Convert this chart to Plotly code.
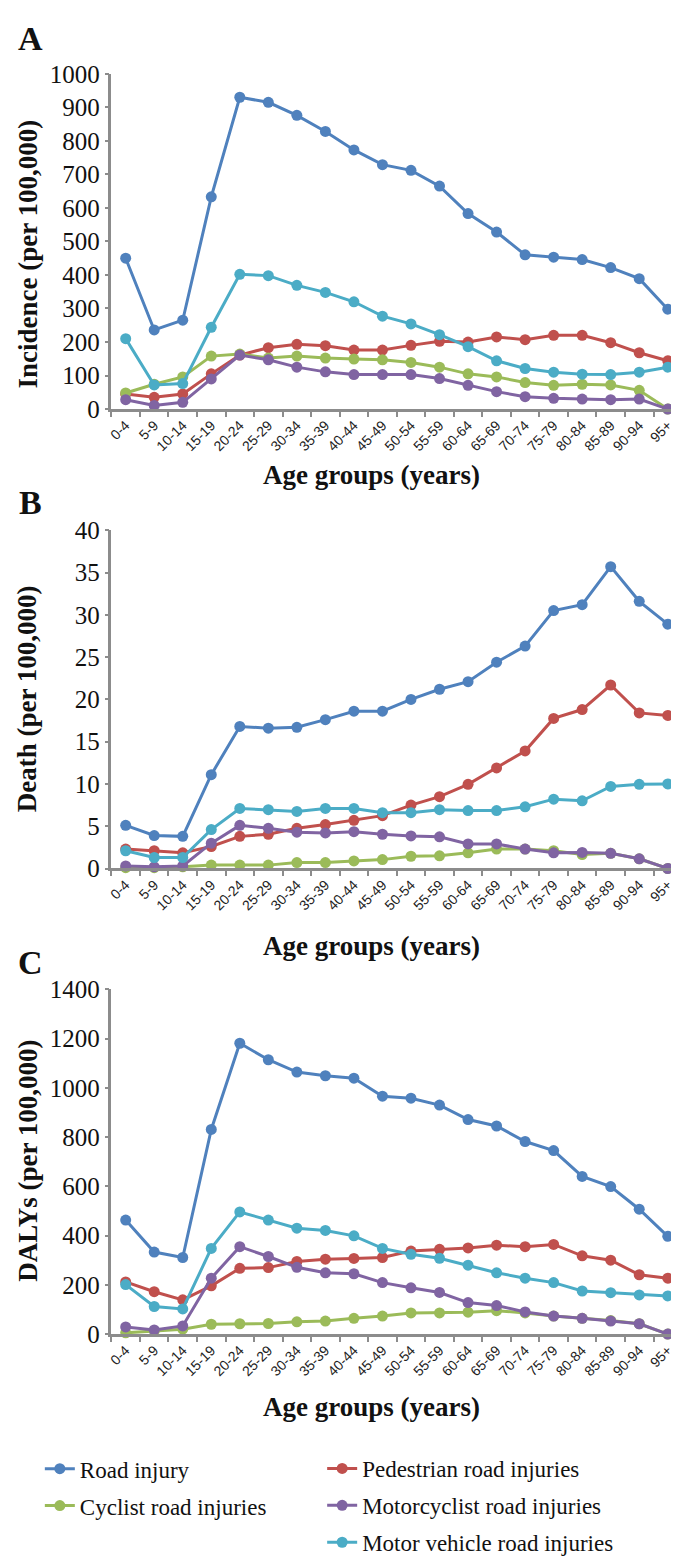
import plotly.graph_objects as go

ages = ["0-4", "5-9", "10-14", "15-19", "20-24", "25-29", "30-34", "35-39", "40-44", "45-49",
        "50-54", "55-59", "60-64", "65-69", "70-74", "75-79", "80-84", "85-89", "90-94", "95+"]

series_names = ["Road injury", "Pedestrian road injuries", "Cyclist road injuries",
                "Motorcyclist road injuries", "Motor vehicle road injuries"]
colors = ["#4F81BD", "#C0504D", "#9BBB59", "#8064A2", "#4BACC6"]

# Panel A: Incidence (per 100,000)
inc_road = [450, 236, 265, 633, 930, 915, 876, 828, 773, 729, 712, 665, 583, 528, 460, 453, 446, 422, 389, 298]
inc_ped = [45, 35, 45, 105, 161, 183, 193, 189, 176, 176, 190, 202, 200, 215, 207, 220, 220, 198, 168, 144]
inc_cyc = [48, 74, 96, 158, 164, 152, 158, 152, 149, 147, 139, 125, 105, 96, 79, 71, 74, 72, 56, 0]
inc_moto = [28, 11, 20, 90, 161, 147, 125, 111, 103, 103, 103, 91, 71, 52, 37, 32, 30, 28, 30, 0]
inc_mv = [210, 72, 76, 244, 402, 398, 369, 348, 320, 277, 254, 222, 186, 144, 121, 110, 104, 103, 110, 125]

# Panel B: Death (per 100,000)
dth_road = [5.1, 3.9, 3.8, 11.1, 16.8, 16.6, 16.7, 17.6, 18.6, 18.6, 20.0, 21.2, 22.1, 24.4, 26.3, 30.5, 31.2, 35.7, 31.6, 28.9]
dth_ped = [2.3, 2.1, 1.85, 2.6, 3.8, 4.05, 4.75, 5.2, 5.7, 6.25, 7.5, 8.5, 9.95, 11.9, 13.9, 17.75, 18.8, 21.7, 18.4, 18.1]
dth_cyc = [0.1, 0.1, 0.2, 0.4, 0.4, 0.4, 0.7, 0.7, 0.9, 1.05, 1.45, 1.5, 1.85, 2.3, 2.3, 2.1, 1.65, 1.8, 1.15, 0]
dth_moto = [0.3, 0.2, 0.3, 3.0, 5.1, 4.75, 4.3, 4.2, 4.35, 4.05, 3.85, 3.75, 2.9, 2.9, 2.3, 1.85, 1.9, 1.8, 1.15, 0]
dth_mv = [2.1, 1.3, 1.3, 4.6, 7.1, 6.95, 6.75, 7.1, 7.1, 6.6, 6.6, 6.95, 6.85, 6.85, 7.3, 8.2, 8.0, 9.7, 9.95, 10.0]

# Panel C: DALYs (per 100,000)
daly_road = [463, 333, 311, 831, 1181, 1114, 1064, 1049, 1039, 966, 958, 930, 871, 845, 782, 745, 640, 599, 507, 397]
daly_ped = [212, 172, 139, 196, 267, 270, 295, 304, 307, 311, 337, 344, 350, 361, 355, 364, 318, 300, 241, 227]
daly_cyc = [5, 13, 20, 40, 42, 43, 50, 53, 64, 73, 86, 86, 89, 95, 86, 73, 64, 55, 42, 0]
daly_moto = [29, 17, 33, 227, 355, 315, 271, 249, 245, 209, 188, 169, 128, 116, 90, 73, 64, 53, 42, 0]
daly_mv = [201, 112, 102, 348, 496, 463, 430, 421, 399, 348, 324, 308, 280, 249, 227, 209, 175, 168, 159, 155]

panels = [
    [inc_road, inc_ped, inc_cyc, inc_moto, inc_mv],
    [dth_road, dth_ped, dth_cyc, dth_moto, dth_mv],
    [daly_road, daly_ped, daly_cyc, daly_moto, daly_mv],
]
y_titles = ["Incidence (per 100,000)", "Death (per 100,000)", "DALYs (per 100,000)"]
y_ranges = [[0, 1000], [0, 40], [0, 1400]]
y_dticks = [100, 5, 200]
panel_letters = ["A", "B", "C"]

W, H = 679, 1556
# pixel geometry of plot areas (top, bottom)
areas = [(54, 397), (521, 867), (990.6, 1343.3)]
x_left, x_right = 100, 674
ytitle_centers = [238, 693, 1166]
xtitle_centers = [464, 946, 1418]
letter_centers = [18, 493, 963]

SERIF = "Liberation Serif"
SANS = "Liberation Sans"
AXC = "#8C8C8C"

fig = go.Figure()
legend_assign = ["legend", "legend2", "legend", "legend2", "legend2"]

for p in range(3):
    xa = "x" if p == 0 else f"x{p+1}"
    ya = "y" if p == 0 else f"y{p+1}"
    for s in range(5):
        fig.add_trace(go.Scatter(
            x=ages, y=panels[p][s], name=series_names[s],
            mode="lines+markers",
            line=dict(color=colors[s], width=3),
            marker=dict(color=colors[s], size=11),
            xaxis=xa, yaxis=ya, cliponaxis=False,
            showlegend=(p == 0), legend=legend_assign[s],
            legendgroup=series_names[s],
        ))

layout = dict(
    width=W, height=H,
    margin=dict(l=0, r=0, t=0, b=0),
    paper_bgcolor="white", plot_bgcolor="white",
    annotations=[],
)

for p in range(3):
    top, bot = areas[p]
    xk = "xaxis" if p == 0 else f"xaxis{p+1}"
    yk = "yaxis" if p == 0 else f"yaxis{p+1}"
    ya = "y" if p == 0 else f"y{p+1}"
    xa = "x" if p == 0 else f"x{p+1}"
    layout[xk] = dict(
        domain=[x_left / W, x_right / W], anchor=ya,
        type="category", range=[-0.5, 19.5],
        showline=True, linecolor=AXC, linewidth=2.5,
        ticks="outside", tickson="boundaries", ticklen=5, tickcolor=AXC, tickwidth=2,
        tickangle=-45, tickfont=dict(family=SANS, size=14, color="#222"),
        showgrid=False, zeroline=False, fixedrange=True,
    )
    layout[yk] = dict(
        domain=[1 - bot / H, 1 - top / H], anchor=xa,
        range=y_ranges[p], dtick=y_dticks[p], tick0=0,
        showline=True, linecolor=AXC, linewidth=2.5,
        ticks="outside", ticklen=4, tickcolor=AXC, tickwidth=2,
        tickfont=dict(family=SERIF, size=25, color="#111"),
        showgrid=False, zeroline=False, fixedrange=True,
    )
    layout["annotations"].append(dict(
        text=f"<b>{y_titles[p]}</b>", textangle=-90, showarrow=False,
        xref="paper", yref="paper", x=16 / W, y=1 - ytitle_centers[p] / H,
        xanchor="center", yanchor="middle",
        font=dict(family=SERIF, size=27, color="#111"),
    ))
    layout["annotations"].append(dict(
        text="<b>Age groups (years)</b>", showarrow=False,
        xref="paper", yref="paper", x=362 / W, y=1 - xtitle_centers[p] / H,
        xanchor="center", yanchor="middle",
        font=dict(family=SERIF, size=27, color="#111"),
    ))
    layout["annotations"].append(dict(
        text=f"<b>{panel_letters[p]}</b>", showarrow=False,
        xref="paper", yref="paper", x=19 / W, y=1 - letter_centers[p] / H,
        xanchor="center", yanchor="middle",
        font=dict(family=SERIF, size=34, color="#111"),
    ))

legend_common = dict(
    orientation="v", bgcolor="rgba(0,0,0,0)",
    font=dict(family=SERIF, size=23, color="#111"),
    xanchor="left", yanchor="top", yref="paper", xref="paper",
    tracegroupgap=4, itemwidth=30,
)
layout["legend"] = dict(legend_common, x=28 / W, y=1 - 1459 / H)
layout["legend2"] = dict(legend_common, x=312 / W, y=1 - 1459 / H)

fig.update_layout(**layout)
fig.write_html("out.html")
